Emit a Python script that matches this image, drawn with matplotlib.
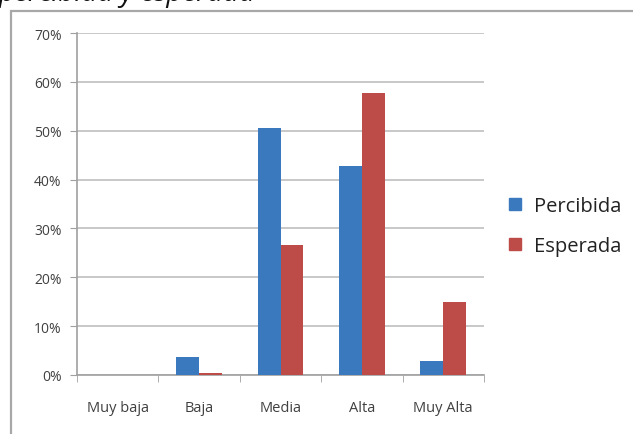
import matplotlib
matplotlib.use("Agg")
import matplotlib.pyplot as plt
from matplotlib.patches import Rectangle
from matplotlib.lines import Line2D
import numpy as np

categories = ["Muy baja", "Baja", "Media", "Alta", "Muy Alta"]
percibida = [0.0, 3.6, 50.5, 42.7, 2.9]
esperada = [0.0, 0.5, 26.6, 57.8, 15.0]
y_ticks = [0, 10, 20, 30, 40, 50, 60, 70]
series_names = ["Percibida", "Esperada"]

blue = "#3a79bd"
red = "#bd4c49"
grid_c = "#c4c4c4"
text_c = "#404040"

W, H = 633, 435
fig = plt.figure(figsize=(W / 100, H / 100), dpi=100)
fig.patch.set_facecolor("white")

# outer chart frame
fig.patches.append(Rectangle((11 / W, -0.05), 1.0, 1 - 12 / H + 0.05,
                             transform=fig.transFigure, fill=False,
                             edgecolor="#a8a8a8", linewidth=1.6))

# caption partly cut off at the top edge
fig.text(-1 / W, 1 - 1.5 / H, "percibida y esperada", fontsize=20,
         style="italic", family="Open Sans", color="#111111",
         ha="left", va="baseline")

ax = fig.add_axes([77 / W, 1 - 376 / H, (484 - 77) / W, (376 - 34) / H])
x = np.arange(len(categories))
bw = 0.282
ax.bar(x - bw / 2, percibida, bw, color=blue, zorder=3)
ax.bar(x + bw / 2, esperada, bw, color=red, zorder=3)

ax.set_xlim(-0.5, len(categories) - 0.5)
ax.set_ylim(0, 70)
ax.set_yticks(y_ticks)
ax.set_yticklabels([f"{v}%" for v in y_ticks], family="Open Sans",
                   fontsize=10, color=text_c)
ax.set_xticks(x)
ax.set_xticklabels(categories, family="Open Sans", fontsize=10.5, color=text_c)
ax.tick_params(axis="x", length=0, pad=18)
ax.tick_params(axis="y", length=5, color="#a0a0a0", pad=6)
ax.set_xticks(np.arange(-0.5, len(categories), 1.0), minor=True)
ax.tick_params(axis="x", which="minor", length=5, color="#a0a0a0")
ax.grid(axis="y", color=grid_c, linewidth=1.3, zorder=0)
for s in ["top", "right"]:
    ax.spines[s].set_visible(False)
ax.spines["left"].set_color("#a0a0a0")
ax.spines["bottom"].set_color("#a0a0a0")
ax.spines["left"].set_linewidth(1.2)
ax.spines["bottom"].set_linewidth(1.2)

handles = [Line2D([], [], marker="s", linestyle="none", markersize=8,
                  markerfacecolor=c, markeredgecolor=c) for c in (blue, red)]
fig.legend(handles, series_names, loc="upper left",
           bbox_to_anchor=(485 / W, 1 - 179 / H), frameon=False,
           prop={"family": "Open Sans", "size": 14.5}, labelspacing=1.0,
           handletextpad=0.35, handlelength=1.2, labelcolor="#222222")

fig.savefig("out.png", dpi=100, facecolor="white")
